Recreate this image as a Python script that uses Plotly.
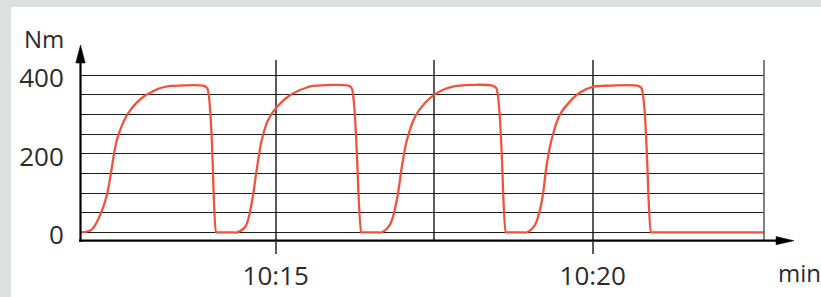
import plotly.graph_objects as go

# time in minutes after 10:00, torque in Nm
time_min = [
    11.93, 12.09, 12.22, 12.33, 12.41, 12.46, 12.51, 12.57, 12.63, 12.71, 12.80, 12.92, 13.05, 13.17, 13.29, 13.35,
    13.87, 13.92, 14.06, 14.07,
    14.30, 14.39, 14.52, 14.62, 14.70, 14.78, 14.88, 15.02, 15.23, 15.49, 15.59, 16.16, 16.20, 16.35, 16.36,
    16.58, 16.67, 16.80, 16.91, 16.99, 17.07, 17.20, 17.35, 17.50, 17.67, 17.85, 18.43, 18.48, 18.63, 18.64,
    18.87, 18.96, 19.09, 19.20, 19.27, 19.35, 19.48, 19.64, 19.80, 20.01, 20.14, 20.72, 20.77, 20.92, 20.93,
    22.70,
]
torque_nm = [
    0, 6, 40, 91, 159, 210, 244, 270, 292, 312, 329, 346, 358, 367, 372, 373,
    373, 367, 0, 0,
    0, 0, 14, 74, 159, 235, 286, 320, 350, 369, 373, 373, 367, 0, 0,
    0, 0, 19, 82, 167, 235, 295, 329, 350, 365, 373, 373, 367, 0, 0,
    0, 0, 19, 82, 167, 235, 299, 333, 356, 371, 373, 373, 367, 0, 0,
    0,
]

x_tick_vals = [15, 20]
x_tick_text = ["10:15", "10:20"]
x_minor_grid = [17.5]
y_grid_vals = [0, 50, 100, 150, 200, 250, 300, 350, 400]
y_label_vals = [0, 200, 400]
y_label_text = ["0", "200", "400"]

W, H = 821, 297
ML, MR, MT, MB = 80, 57, 60, 56
PW = W - ML - MR
PH = H - MT - MB


def px(x):
    return (x - ML) / PW


def py(y):
    return (H - MB - y) / PH


FONT = "Open Sans"
TXT = "#2b2b2b"
GRID_V = "#5a5a5a"

fig = go.Figure()
fig.add_trace(go.Scatter(
    x=time_min, y=torque_nm, mode="lines",
    line=dict(color="#f0523d", width=2.3, shape="spline", smoothing=1.0),
    hoverinfo="skip", showlegend=False,
))

y_ticktext = [y_label_text[y_label_vals.index(v)] if v in y_label_vals else "" for v in y_grid_vals]

fig.update_layout(
    template="none",
    width=W, height=H,
    margin=dict(l=ML, r=MR, t=MT, b=MB, pad=0, autoexpand=False),
    paper_bgcolor="white", plot_bgcolor="white",
    font=dict(family=FONT, color=TXT),
    xaxis=dict(
        range=[11.913, 22.702], showline=False, zeroline=False, automargin=False,
        tickmode="array", tickvals=x_tick_vals, ticktext=x_tick_text,
        ticks="outside", ticklen=12, tickwidth=1.5, tickcolor=GRID_V,
        showgrid=True, gridcolor=GRID_V, gridwidth=1.5,
        minor=dict(tickmode="array", tickvals=x_minor_grid, showgrid=True,
                   gridcolor=GRID_V, gridwidth=1.5, ticks=""),
        tickfont=dict(family=FONT, size=26, color=TXT),
        fixedrange=True,
    ),
    yaxis=dict(
        range=[-22.2, 439.0], showline=False, zeroline=False, automargin=False,
        tickmode="array", tickvals=y_grid_vals, ticktext=y_ticktext,
        ticks="outside", ticklen=10, tickcolor="rgba(0,0,0,0)",
        showgrid=True, gridcolor="#1e1e1e", gridwidth=1,
        tickfont=dict(family=FONT, size=26, color=TXT),
        ticklabelshift=3,
        fixedrange=True,
    ),
)

shapes = [
    # gray frame strips
    dict(type="rect", xref="paper", yref="paper", x0=px(0), x1=px(W), y0=py(0), y1=py(7),
         fillcolor="#dfe0e2", line=dict(width=0), layer="below"),
    dict(type="rect", xref="paper", yref="paper", x0=px(0), x1=px(11), y0=py(H), y1=py(0),
         fillcolor="#dfe0e2", line=dict(width=0), layer="below"),
    # right border line
    dict(type="line", xref="paper", yref="paper", x0=1, x1=1, y0=0, y1=1,
         line=dict(color=GRID_V, width=1.5)),
    # x axis line with arrow
    dict(type="line", xref="paper", yref="paper", x0=px(79), x1=px(778), y0=py(240.7), y1=py(240.7),
         line=dict(color="black", width=2.2)),
    dict(type="path", xref="paper", yref="paper",
         path=f"M {px(776)},{py(236.6)} L {px(794)},{py(240.7)} L {px(776)},{py(244.8)} Z",
         fillcolor="black", line=dict(color="black", width=0.5)),
    # y axis line with arrow
    dict(type="line", xref="paper", yref="paper", x0=px(80.5), x1=px(80.5), y0=py(241.8), y1=py(60),
         line=dict(color="black", width=2.2)),
    dict(type="path", xref="paper", yref="paper",
         path=f"M {px(75.8)},{py(63)} L {px(80.5)},{py(45)} L {px(85.2)},{py(63)} Z",
         fillcolor="black", line=dict(color="black", width=0.5)),
]
fig.update_layout(shapes=shapes)

fig.add_annotation(text="Nm", xref="paper", yref="paper", x=px(43.5), y=py(39),
                   xanchor="center", yanchor="middle", showarrow=False,
                   font=dict(family=FONT, size=24, color=TXT))
fig.add_annotation(text="min", xref="paper", yref="paper", x=px(776), y=py(272),
                   xanchor="left", yanchor="middle", showarrow=False,
                   font=dict(family=FONT, size=24, color=TXT))

fig.write_html(
    "out.html",
    config=dict(displayModeBar=False),
    post_script=(
        "document.body.style.margin='0';"
        "document.body.style.overflow='hidden';"
        "document.documentElement.style.overflow='hidden';"
    ),
)
